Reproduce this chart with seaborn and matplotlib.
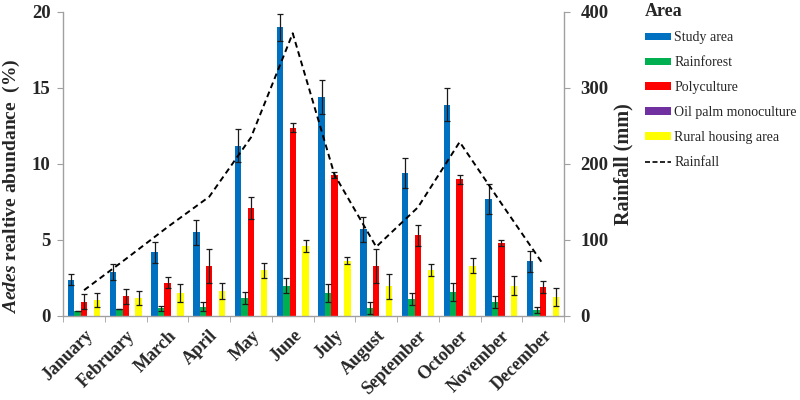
import numpy as np
import pandas as pd
import matplotlib
matplotlib.use("Agg")
import matplotlib.pyplot as plt
import seaborn as sns
from matplotlib.patches import Patch
from matplotlib.lines import Line2D

# ── Données ─────────────────────────────────────────────────────────────────
months = ["January", "February", "March", "April", "May", "June", "July",
          "August", "September", "October", "November", "December"]
areas = ["Study area", "Rainforest", "Polyculture", "Oil palm monoculture",
         "Rural housing area"]

study_area     = [2.4, 2.9, 4.2, 5.5, 11.2, 19.0, 14.4, 5.7, 9.4, 13.9, 7.7, 3.6]
study_area_err = [0.35, 0.5, 0.7, 0.8, 1.1, 0.9, 1.1, 0.8, 1.0, 1.1, 1.0, 0.7]
rainforest     = [0.35, 0.45, 0.5, 0.6, 1.2, 2.0, 1.5, 0.5, 1.1, 1.6, 0.9, 0.4]
rainforest_err = [0.0, 0.0, 0.15, 0.3, 0.4, 0.5, 0.6, 0.4, 0.4, 0.6, 0.4, 0.2]
polyculture     = [0.95, 1.3, 2.2, 3.3, 7.1, 12.4, 9.3, 3.3, 5.3, 9.0, 4.8, 1.9]
polyculture_err = [0.5, 0.5, 0.35, 1.1, 0.7, 0.3, 0.2, 1.1, 0.7, 0.3, 0.2, 0.4]
oil_palm     = [0] * 12
oil_palm_err = [0] * 12
rural     = [1.05, 1.2, 1.5, 1.65, 3.0, 4.6, 3.65, 1.95, 3.05, 3.3, 2.0, 1.25]
rural_err = [0.45, 0.45, 0.6, 0.5, 0.5, 0.4, 0.25, 0.8, 0.4, 0.5, 0.6, 0.6]

rainfall = [34, 75, 117, 157, 235, 372, 186, 91, 143, 229, 148, 68]

colors = ["#0070C0", "#00B050", "#FF0000", "#7030A0", "#FFFF00"]

values = [study_area, rainforest, polyculture, oil_palm, rural]
errors = [study_area_err, rainforest_err, polyculture_err, oil_palm_err, rural_err]

df = pd.DataFrame({
    "month": months * len(areas),
    "area": [a for a in areas for _ in months],
    "value": np.concatenate(values),
})

# ── Style ───────────────────────────────────────────────────────────────────
sns.set_style("white")
plt.rcParams["font.family"] = ["Liberation Serif", "DejaVu Serif"]
plt.rcParams["mathtext.fontset"] = "custom"
plt.rcParams["mathtext.it"] = "Liberation Serif:italic:bold"
plt.rcParams["mathtext.rm"] = "Liberation Serif:bold"

GREY = "#a0a0a0"

fig = plt.figure(figsize=(8, 4), dpi=100)
ax = fig.add_axes([0.079, 0.21, 0.626, 0.76])

sns.barplot(data=df, x="month", y="value", hue="area", hue_order=areas,
            order=months, palette=colors, width=0.77, saturation=1,
            errorbar=None, linewidth=0, legend=False, ax=ax)

# barres d'erreur
for cont, err, area in zip(ax.containers, errors, areas):
    if area == "Oil palm monoculture":
        continue
    xs = [b.get_x() + b.get_width() / 2 for b in cont]
    ys = [b.get_height() for b in cont]
    ax.errorbar(xs, ys, yerr=err, fmt="none", ecolor="#1a1a1a",
                elinewidth=0.9, capsize=2.5, capthick=0.9, zorder=3)

ax.set_xlim(-0.5, 11.5)
ax.set_ylim(0, 20)
ax.set_yticks([0, 5, 10, 15, 20])
ax.set_xlabel("")
ax.set_ylabel(r"$\mathit{Aedes}$ realtive abundance  (%)",
              fontsize=14, fontweight="bold")
ax.yaxis.set_label_coords(-0.082, 0.428)

ax.set_xticks(np.arange(-0.5, 12, 1), minor=True)
ax.set_xticklabels(months, rotation=45, ha="right", rotation_mode="anchor",
                   fontsize=13, fontweight="bold")
ax.tick_params(axis="x", which="major", length=0, pad=8)
ax.tick_params(axis="x", which="minor", length=4, color=GREY,
               direction="out", bottom=True)
ax.tick_params(axis="y", length=4, color=GREY, direction="out",
               left=True, labelsize=13.5, pad=5)
for lbl in ax.get_yticklabels():
    lbl.set_fontweight("bold")

for s in ["top", "right"]:
    ax.spines[s].set_visible(False)
for s in ["left", "bottom"]:
    ax.spines[s].set_color(GREY)
    ax.spines[s].set_linewidth(1)

# Pluviométrie (axe secondaire)
ax2 = ax.twinx()
sns.lineplot(x=np.arange(len(months)), y=rainfall, ax=ax2, color="black",
             linestyle=(0, (3, 2)), linewidth=1.4)
ax2.set_ylim(0, 400)
ax2.set_yticks([0, 100, 200, 300, 400])
ax2.set_ylabel("Rainfall (mm)", fontsize=14.5, fontweight="bold")
ax2.yaxis.set_label_coords(1.098, 0.5)
ax2.tick_params(axis="y", length=4, color=GREY, direction="out",
                right=True, labelsize=13.5, pad=8)
for lbl in ax2.get_yticklabels():
    lbl.set_fontweight("bold")
for s in ["top", "left", "bottom"]:
    ax2.spines[s].set_visible(False)
ax2.spines["right"].set_color(GREY)
ax2.spines["right"].set_linewidth(1)

# Légende
handles = [Patch(facecolor=c, edgecolor="none") for c in colors]
handles.append(Line2D([], [], color="black", linestyle=(0, (3, 1.5)), linewidth=1.2))
leg = fig.legend(handles, areas + ["Rainfall"], title="Area",
                 loc="upper left", bbox_to_anchor=(0.791, 1.025),
                 frameon=False, fontsize=10, handlelength=1.85,
                 handleheight=0.5, handletextpad=0.25, labelspacing=0.86,
                 alignment="left",
                 title_fontproperties={"weight": "bold", "size": 13})

fig.savefig("out.png", dpi=100)
